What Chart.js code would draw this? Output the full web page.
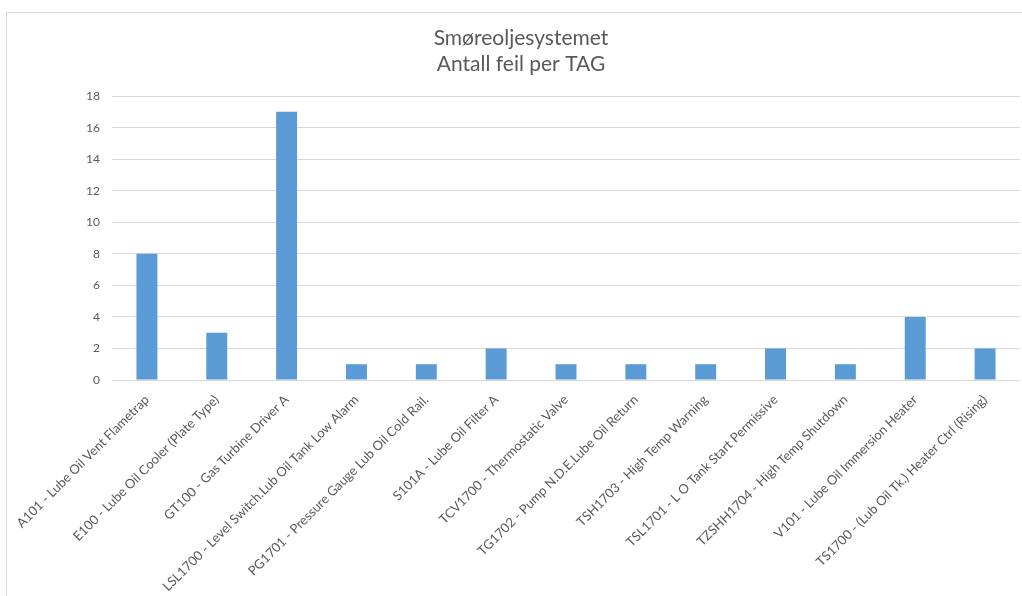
<!DOCTYPE html>
<html>
<head>
<meta charset="utf-8">
<script src="https://cdn.jsdelivr.net/npm/chart.js@4"></script>
<style>
    html, body { margin: 0; padding: 0; background: #fff; overflow: hidden; }
    #frame { position: absolute; left: 6px; top: 12px; width: 1100px; height: 700px; border: 1px solid #d9d9d9; }
    #wrap { position: absolute; left: 0; top: 0; width: 1022px; height: 596px; }
</style>
</head>
<body>
<div id="frame"></div>
<div id="wrap"><canvas id="chart"></canvas></div>
<script>
// kategorier (TAG) og antall feil
const tags = [
    'A101 - Lube Oil Vent Flametrap',
    'E100 - Lube Oil Cooler (Plate Type)',
    'GT100 - Gas Turbine Driver A',
    'LSL1700 - Level Switch.Lub Oil Tank Low Alarm',
    'PG1701 - Pressure Gauge Lub Oil Cold Rail.',
    'S101A - Lube Oil Filter A',
    'TCV1700 - Thermostatic Valve',
    'TG1702 - Pump N.D.E.Lube Oil Return',
    'TSH1703 - High Temp Warning',
    'TSL1701 - L O Tank Start Permissive',
    'TZSHH1704 - High Temp Shutdown',
    'V101 - Lube Oil Immersion Heater',
    'TS1700 - (Lub Oil Tk.) Heater Ctrl (Rising)'
];
const antallFeil = [8, 3, 17, 1, 1, 2, 1, 1, 1, 2, 1, 4, 2];
const titleLines = ['Smøreoljesystemet', 'Antall feil per TAG'];

function feilChart(id) {
    const data = {
        labels: tags,
        datasets: [{
                label: 'Antall feil',
                data: antallFeil,
                backgroundColor: '#5b9bd5',
                borderWidth: 0,
                categoryPercentage: 1,
                barPercentage: 0.3
            }]
    };
    const config = {
        type: 'bar',
        data: data,
        options: {
            responsive: true,
            maintainAspectRatio: false,
            animation: false,
            layout: {padding: {left: 22, right: 2, top: 0, bottom: 0}},
            plugins: {
                legend: {display: false},
                tooltip: {enabled: false},
                title: {
                    display: true,
                    text: titleLines,
                    color: '#595959',
                    font: {family: 'Lato', size: 21, weight: 'normal', lineHeight: 1.24},
                    padding: {top: 25, bottom: 19}
                }
            },
            scales: {
                x: {
                    grid: {display: false},
                    border: {display: false},
                    ticks: {
                        autoSkip: false,
                        maxRotation: 45,
                        minRotation: 45,
                        padding: 4,
                        color: '#595959',
                        font: {family: 'Lato', size: 13}
                    },
                    afterFit: s => { s.paddingLeft = 0; s.paddingRight = 0; s.height = 216; }
                },
                y: {
                    min: 0,
                    max: 18,
                    grid: {color: '#d9d9d9', lineWidth: 1, drawTicks: false},
                    border: {display: false},
                    ticks: {
                        stepSize: 2,
                        padding: 12,
                        color: '#595959',
                        font: {family: 'Lato', size: 12}
                    },
                    afterFit: s => { s.width = 90; }
                }
            }
        }
    };
    let ctx = document.getElementById(id).getContext("2d");
    new Chart(ctx, config);
}
feilChart('chart');
</script>
</body>
</html>
